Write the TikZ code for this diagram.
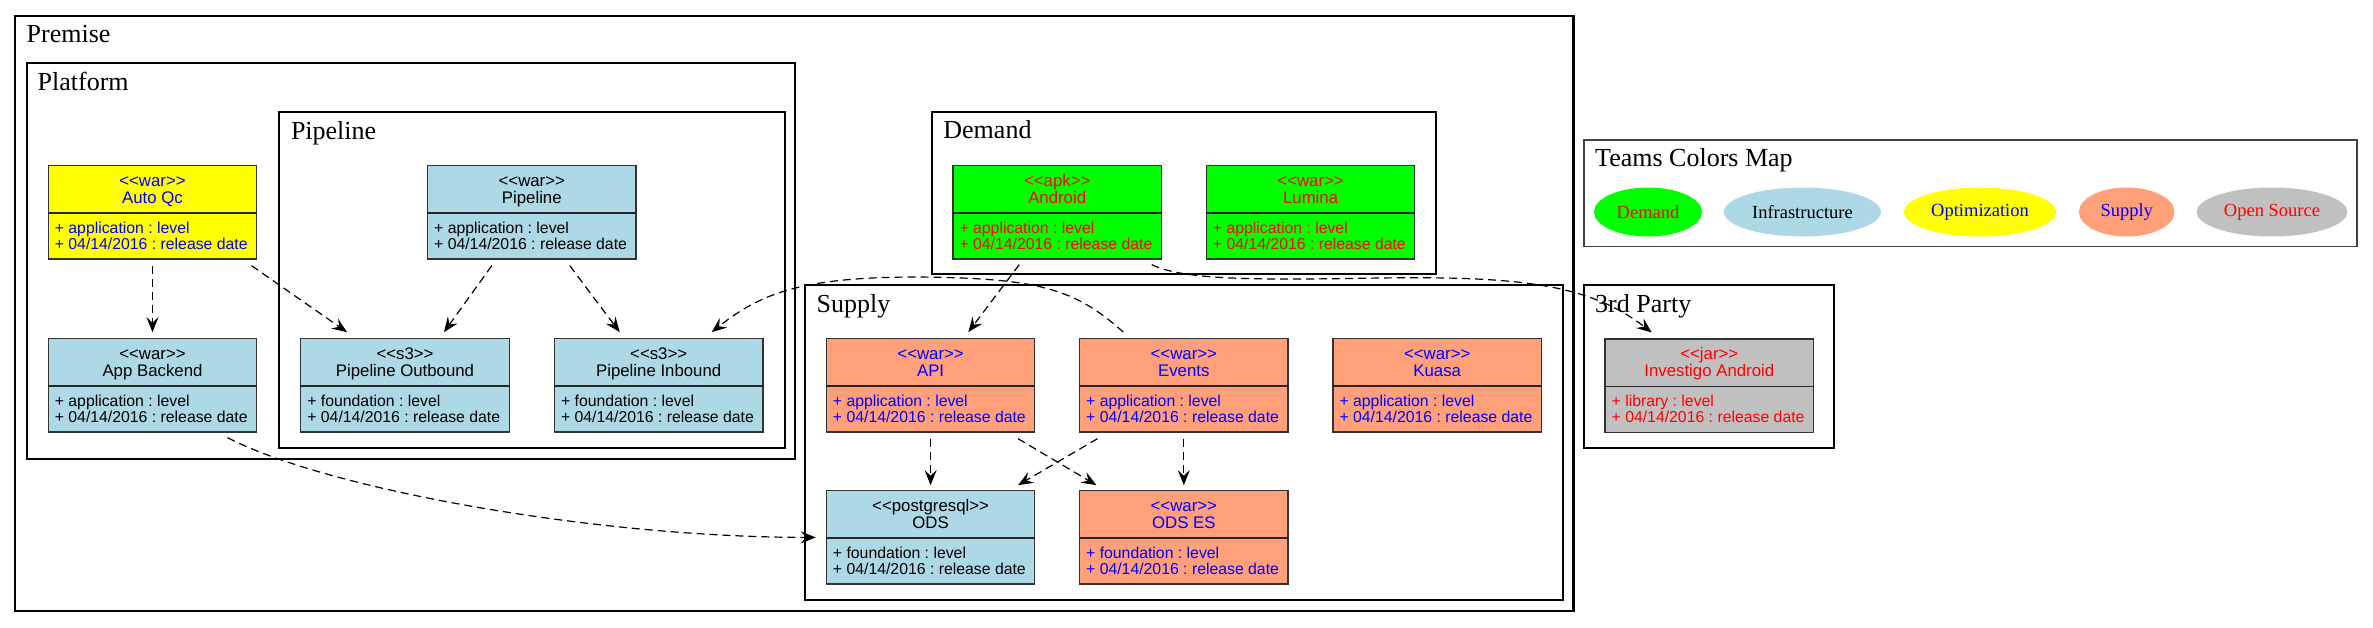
\documentclass[tikz,border=0pt]{standalone}
\usepackage{fontspec}
\setmainfont{Liberation Serif}
\newfontfamily\umlfont{Liberation Sans}
\frenchspacing
\usetikzlibrary{arrows.meta}
\usetikzlibrary{shapes.geometric}
\definecolor{mgreen}{rgb}{0, 1, 0}
\definecolor{mlightblue}{HTML}{ADD8E6}
\definecolor{myellow}{rgb}{1, 1, 0}
\definecolor{msalmon}{HTML}{FFA07A}
\definecolor{mgrey}{HTML}{C0C0C0}
\definecolor{mred}{rgb}{1, 0, 0}
\definecolor{mblue}{rgb}{0, 0, 1}
\tikzset{cluster/.style = {draw, line width = 2.2pt}}
\tikzset{legendbox/.style = {draw = black!75, line width = 1.5pt}}
\tikzset{clusterlabel/.style = {anchor = base west, inner sep = 0, font = \fontsize{26}{30}\selectfont}}
\tikzset{classbox/.style = {draw = black!80, line width = 1.2pt, rectangle, inner sep = 0, minimum width = 208.5pt, minimum height = 93.3pt}}
\tikzset{classline/.style = {draw = black!85, line width = 1.6pt}}
\tikzset{classhead/.style = {inner sep = 0, anchor = base, font = \umlfont\fontsize{16.8}{18}\selectfont}}
\tikzset{classattr/.style = {inner sep = 0, anchor = base west, font = \umlfont\fontsize{15.8}{18}\selectfont}}
\tikzset{depends/.style = {line width = 1.2pt, dash pattern = on 8pt off 5pt, -{Stealth[length = 15pt, width = 12pt, inset = 5.5pt]}}}
\tikzset{legend/.style = {ellipse, inner sep = 0, minimum height = 49pt, font = \fontsize{18.5}{22}\selectfont}}
\tikzset{demand/.style = {fill = mgreen}, demand text/.style = {text = mred}}
\tikzset{infra/.style = {fill = mlightblue}, infra text/.style = {text = black}}
\tikzset{optim/.style = {fill = myellow}, optim text/.style = {text = mblue}}
\tikzset{supply/.style = {fill = msalmon}, supply text/.style = {text = mblue}}
\tikzset{opensource/.style = {fill = mgrey}, opensource text/.style = {text = mred}}
\newcommand{\stereo}[1]{<\kern0pt<#1>\kern0pt>}
\newcommand{\umlclass}[7]{%
  \node [classbox, #4] (#1) at (#2, #3) {};
  \draw [classline] ([yshift = -48pt]#1.north west) -- ([yshift = -48pt]#1.north east);
  \node [classhead, #4 text] (#1-st) at ([yshift = -21pt]#1.north) {\stereo{#5}};
  \node [classhead, #4 text] (#1-name) at ([yshift = -38.5pt]#1.north) {#6};
  \node [classattr, #4 text] (#1-lvl) at ([xshift = 7pt, yshift = -68pt]#1.north west) {+ #7 : level};
  \node [classattr, #4 text] (#1-date) at ([xshift = 7pt, yshift = -84pt]#1.north west) {+ 04/14/2016 : release date};
}

\begin{document}
\begin{tikzpicture}[x = 1pt, y = -1pt]
  \useasboundingbox (0, 0) rectangle (2373, 627);

  \draw [cluster] (15, 15.7) rectangle (1573.4, 611);
  \node [clusterlabel] (premiselabel) at (26.5, 42.7) {Premise};
  \draw [cluster] (26.7, 63.3) rectangle (795, 459);
  \node [clusterlabel] (platformlabel) at (37.5, 90.5) {Platform};
  \draw [cluster] (279.3, 112.3) rectangle (784.7, 448);
  \node [clusterlabel] (pipelinelabel) at (290.8, 139) {Pipeline};
  \draw [cluster] (931.7, 112) rectangle (1435.9, 274.3);
  \node [clusterlabel] (demandlabel) at (943.2, 138.5) {Demand};
  \draw [cluster] (805, 285.3) rectangle (1563, 600);
  \node [clusterlabel] (supplylabel) at (816.5, 312.5) {Supply};
  \draw [cluster] (1583.8, 285) rectangle (1834, 448.3);
  \node [clusterlabel] (partylabel) at (1595, 312) {3rd Party};
  \draw [legendbox] (1583.8, 140) rectangle (2356.8, 246.7);
  \node [clusterlabel] (teamslabel) at (1595, 166.7) {Teams Colors Map};

  \node [legend, demand, demand text, minimum width = 108pt] (demandkey) at (1648, 212) {Demand};
  \node [legend, infra, infra text, minimum width = 157pt] (infrakey) at (1802.4, 212) {Infrastructure};
  \node [legend, optim, optim text, minimum width = 152pt] (optimkey) at (1980, 212) {Optimization};
  \node [legend, supply, supply text, minimum width = 95.5pt] (supplykey) at (2126.7, 212) {Supply};
  \node [legend, opensource, opensource text, minimum width = 150.5pt] (opensourcekey) at (2272, 212) {Open Source};

  \umlclass{autoqc}{152.5}{212.4}{optim}{war}{Auto Qc}{application}
  \umlclass{pipeline}{531.8}{212.4}{infra}{war}{Pipeline}{application}
  \umlclass{android}{1057.2}{212.4}{demand}{apk}{Android}{application}
  \umlclass{lumina}{1310.6}{212.4}{demand}{war}{Lumina}{application}
  \umlclass{appbackend}{152.5}{385.4}{infra}{war}{App Backend}{application}
  \umlclass{outbound}{405}{385.4}{infra}{s3}{Pipeline Outbound}{foundation}
  \umlclass{inbound}{658.7}{385.4}{infra}{s3}{Pipeline Inbound}{foundation}
  \umlclass{api}{930.6}{385.4}{supply}{war}{API}{application}
  \umlclass{events}{1183.8}{385.4}{supply}{war}{Events}{application}
  \umlclass{kuasa}{1437.2}{385.4}{supply}{war}{Kuasa}{application}
  \umlclass{investigo}{1709.3}{385.7}{opensource}{jar}{Investigo Android}{library}
  \umlclass{ods}{930.6}{537.4}{infra}{postgresql}{ODS}{foundation}
  \umlclass{odses}{1183.8}{537.4}{supply}{war}{ODS ES}{foundation}

  \coordinate (evbend) at (917, 277);
  \coordinate (andbend) at (1380, 278);

  \draw [depends] ([yshift = -6pt]autoqc.south) -- ([yshift = 6pt]appbackend.north);
  \draw [depends] ([xshift = 99pt, yshift = -6pt]autoqc.south) -- ([xshift = -58pt, yshift = 6pt]outbound.north);
  \draw [depends] ([xshift = -40pt, yshift = -6pt]pipeline.south) -- ([xshift = 39pt, yshift = 6pt]outbound.north);
  \draw [depends] ([xshift = 38pt, yshift = -6pt]pipeline.south) -- ([xshift = -39pt, yshift = 6pt]inbound.north);
  \draw [depends] ([xshift = -60.5pt, yshift = 6pt]events.north) .. controls +(-48, -43) and +(123, 1) .. (evbend) .. controls +(-117, 0) and +(48, -38) .. ([xshift = 53pt, yshift = 6pt]inbound.north);
  \draw [depends] ([xshift = -38pt, yshift = -5pt]android.south) -- ([xshift = 37.7pt, yshift = 6pt]api.north);
  \draw [depends] ([xshift = 94.5pt, yshift = -5pt]android.south) .. controls +(33, 16) and +(-120, 2) .. (andbend) .. controls +(140, -2) and +(-62, -48) .. ([xshift = -57.6pt, yshift = 6pt]investigo.north);
  \draw [depends] ([xshift = 75pt, yshift = -5pt]appbackend.south) .. controls +(103, 53) and +(-216, 0) .. ([xshift = -10pt]ods.west);
  \draw [depends] ([yshift = -6pt]api.south) -- ([yshift = 5pt]ods.north);
  \draw [depends] ([xshift = 87.4pt, yshift = -6pt]api.south) -- ([xshift = -87.4pt, yshift = 5pt]odses.north);
  \draw [depends] ([xshift = -86.3pt, yshift = -6pt]events.south) -- ([xshift = 87.4pt, yshift = 5pt]ods.north);
  \draw [depends] ([yshift = -6pt]events.south) -- ([yshift = 5pt]odses.north);
\end{tikzpicture}
\end{document}
